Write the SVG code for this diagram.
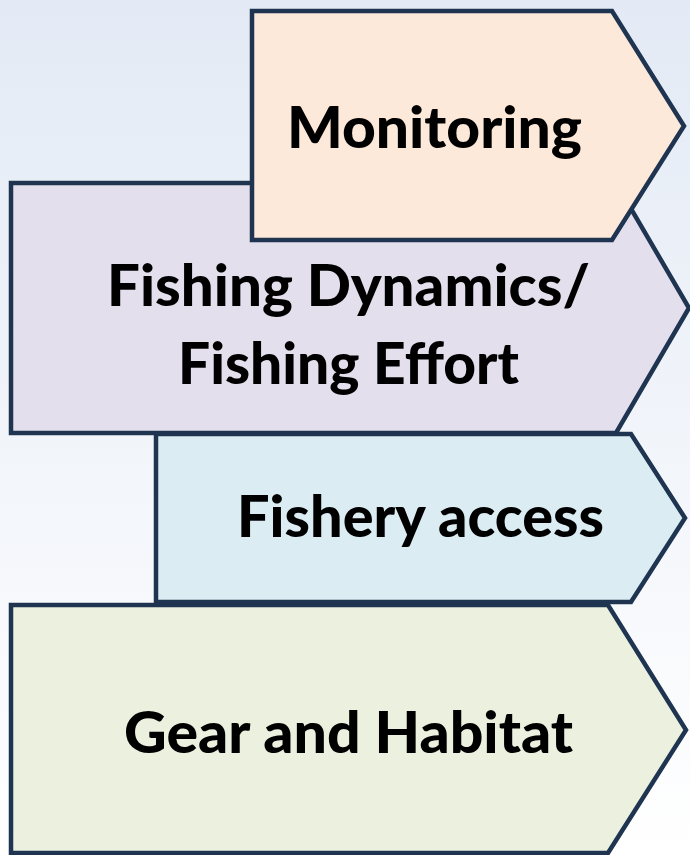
<svg xmlns="http://www.w3.org/2000/svg" width="690" height="855" viewBox="0 0 690 855">
  <defs>
    <linearGradient id="bg" x1="0" y1="0" x2="0" y2="1">
      <stop offset="0" stop-color="#E3EAF5"/>
      <stop offset="1" stop-color="#FFFFFF"/>
    </linearGradient>
  </defs>
  <style>
    .shape { stroke: #1E3450; stroke-width: 4.5; stroke-linejoin: miter; }
    .lbl { font-family: Lato, "Open Sans", "Liberation Sans", sans-serif; font-weight: 900; font-size: 57px; fill: #000000; }
  </style>
  <rect x="0" y="0" width="690" height="855" fill="url(#bg)"/>
  <g id="gear-and-habitat">
    <path class="shape" fill="#EBF0DF" d="M11,605 L608,605 L686,730 L608,853 L11,853 Z"/>
    <text class="lbl" x="124" y="753" textLength="449" lengthAdjust="spacingAndGlyphs">Gear and Habitat</text>
  </g>
  <g id="fishery-access">
    <path class="shape" fill="#DBEDF3" d="M156,434 L631,434 L685,518 L631,602 L156,602 Z"/>
    <text class="lbl" x="237" y="537" textLength="367" lengthAdjust="spacingAndGlyphs">Fishery access</text>
  </g>
  <g id="fishing-dynamics">
    <path class="shape" fill="#E4DFEC" d="M11,183 L616,183 L689,308 L616,433 L11,433 Z"/>
    <text class="lbl" x="107" y="306" textLength="483" lengthAdjust="spacingAndGlyphs">Fishing Dynamics/</text>
    <text class="lbl" x="178" y="384" textLength="341" lengthAdjust="spacingAndGlyphs">Fishing Effort</text>
  </g>
  <g id="monitoring">
    <path class="shape" fill="#FDE9DA" d="M252,11 L612,11 L684,126 L612,240 L252,240 Z"/>
    <text class="lbl" x="287" y="148" textLength="295" lengthAdjust="spacingAndGlyphs">Monitoring</text>
  </g>
  <g id="connectors"/>
</svg>
